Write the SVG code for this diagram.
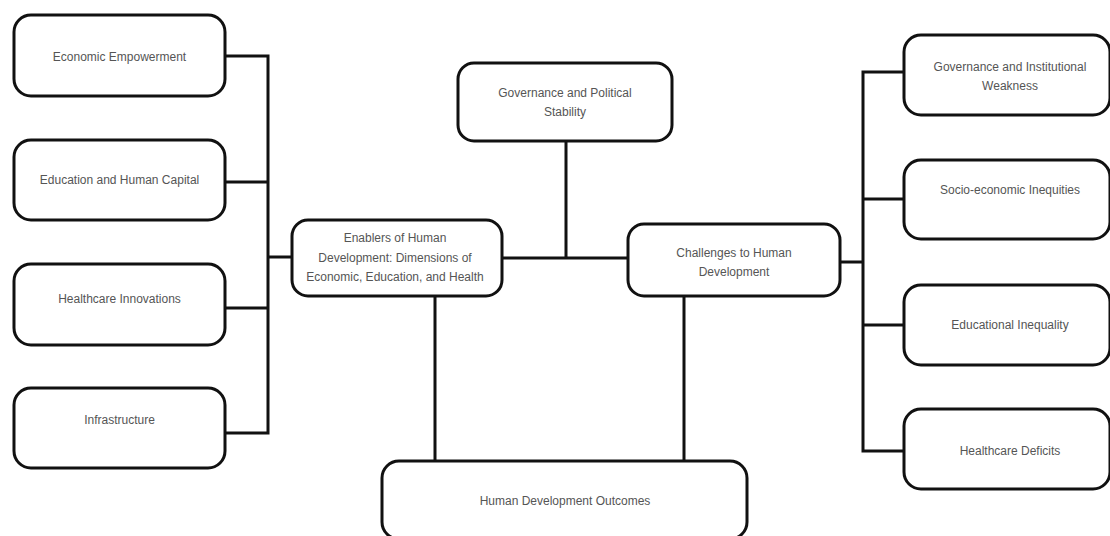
<svg xmlns="http://www.w3.org/2000/svg" width="1110" height="536" viewBox="0 0 1110 536">
<style>
.node rect{fill:#fff;stroke:#111;stroke-width:3}
.node text{font-family:"Liberation Sans",Arial,sans-serif;font-size:12px;fill:#555;text-anchor:middle}
#connectors path{fill:none;stroke:#111;stroke-width:3;stroke-linejoin:miter;stroke-linecap:square}
</style>
<rect width="1110" height="536" fill="#fff"/>
<g id="connectors">
<path d="M225 56H268V433H225M225 182H268M225 308H268M268 257H292"/>
<path d="M502 258H628M566 141V258"/>
<path d="M435 296V461M684 296V461"/>
<path d="M840 262H863M904 72H863V451H904M863 199H904M863 325H904"/>
</g>
<g id="n-economic" class="node"><rect x="14" y="15" width="211" height="81" rx="17"/><text x="119.5" y="61">Economic Empowerment</text></g>
<g id="n-education" class="node"><rect x="14" y="140" width="211" height="80" rx="17"/><text x="119.5" y="184">Education and Human Capital</text></g>
<g id="n-healthcare" class="node"><rect x="14" y="264" width="211" height="81" rx="17"/><text x="119.5" y="303">Healthcare Innovations</text></g>
<g id="n-infra" class="node"><rect x="14" y="388" width="211" height="80" rx="17"/><text x="119.5" y="424">Infrastructure</text></g>
<g id="n-enablers" class="node"><rect x="292" y="220" width="210" height="76" rx="16"/><text x="395" y="242">Enablers of Human</text><text x="395" y="262">Development: Dimensions of</text><text x="395" y="281">Economic, Education, and Health</text></g>
<g id="n-gov" class="node"><rect x="458" y="63" width="214" height="78" rx="16"/><text x="565" y="97">Governance and Political</text><text x="565" y="116">Stability</text></g>
<g id="n-challenges" class="node"><rect x="628" y="224" width="212" height="72" rx="16"/><text x="734" y="257">Challenges to Human</text><text x="734" y="276">Development</text></g>
<g id="n-govweak" class="node"><rect x="904" y="35" width="206" height="80" rx="17"/><text x="1010" y="71">Governance and Institutional</text><text x="1010" y="90">Weakness</text></g>
<g id="n-socio" class="node"><rect x="904" y="160" width="206" height="79" rx="17"/><text x="1010" y="194">Socio-economic Inequities</text></g>
<g id="n-edineq" class="node"><rect x="904" y="285" width="206" height="80" rx="17"/><text x="1010" y="329">Educational Inequality</text></g>
<g id="n-health" class="node"><rect x="904" y="409" width="206" height="80" rx="17"/><text x="1010" y="455">Healthcare Deficits</text></g>
<g id="n-outcomes" class="node"><rect x="382" y="461" width="365" height="78" rx="17"/><text x="565" y="505">Human Development Outcomes</text></g>
</svg>
